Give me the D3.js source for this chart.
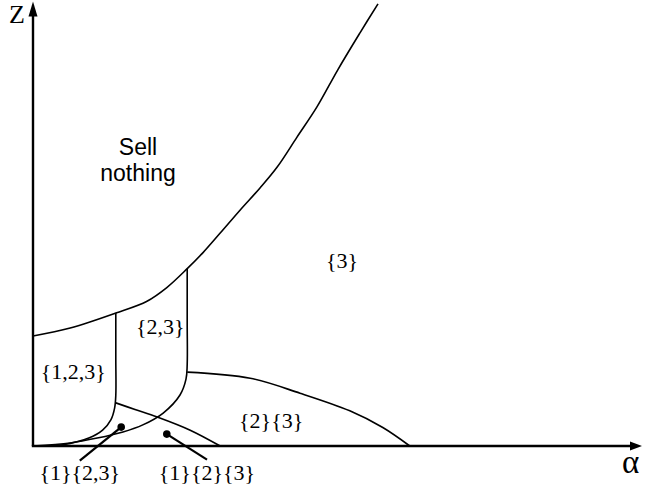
<!DOCTYPE html>
<html>
<head>
<meta charset="utf-8">
<script src="https://cdn.jsdelivr.net/npm/d3@7"></script>
<style>
  html, body { margin: 0; padding: 0; background: #fff; }
  .curve { fill: none; stroke: #000; stroke-width: 1.6; }
  .axis { stroke: #000; stroke-width: 2.4; }
  .lbl { font-family: "Liberation Serif", "Times New Roman", serif; font-size: 22px; fill: #000; }
  .sans { font-family: "Liberation Sans", Arial, sans-serif; font-size: 23px; fill: #000; }
</style>
</head>
<body>
<div id="chart"></div>
<script>
// Boundaries in (alpha, z) units
const sellNothingEdge = [[0, 25.0], [6.2, 26.8], [13.8, 30.2], [19.0, 32.9], [22.3, 36.0], [25.7, 40.3],
  [28.3, 43.9], [31.2, 48.4], [34.5, 53.6], [37.8, 58.6], [40.7, 63.4], [44.0, 70.2],
  [47.3, 77.0], [50.8, 85.5], [54.5, 93.9], [57.5, 100.5]];
const edge123 = [[13.8, 30.2], [13.8, 20], [13.8, 11.5], [13.6, 8.6], [13.0, 6.0], [11.6, 3.6],
  [9.3, 1.8], [5.0, 0.3], [0, 0]];
const edge23 = [[25.7, 40.3], [25.7, 28], [25.7, 18.5], [25.5, 15.2], [24.5, 11.6], [21.7, 7.5],
  [18.3, 4.8], [15.0, 3.2], [10.7, 1.8], [6.2, 0.7], [0, 0]];
const edge1x23 = [[13.8, 9.8], [17.0, 8.3], [20.7, 6.6], [26.2, 3.6], [31.2, 0]];
const edge2x3 = [[25.7, 16.8], [36.2, 15.4], [44.5, 12.0], [52.8, 8.0], [58.3, 4.2], [62.8, 0]];

const regionNames = ["{1,2,3}", "{2,3}", "{3}", "{2}{3}"];
const regionAt = [[6.7, 15.3], [21.2, 25.5], [51.5, 40.4], [39.7, 4.0]];

const pointerNames = ["{1}{2,3}", "{1}{2}{3}"];
const pointerDot = [[14.7, 4.3], [22.3, 2.7]];
const pointerEnd = [[7.8, -3.3], [29.0, -3.1]];
const pointerText = [[7.8, -7.7], [29.0, -7.7]];

const W = 654, H = 486;
const svg = d3.select("#chart").append("svg").attr("width", W).attr("height", H);

const x = d3.scaleLinear().domain([0, 100]).range([33, 633]);
const y = d3.scaleLinear().domain([0, 100]).range([446, 6]);

const line = d3.line().x(d => x(d[0])).y(d => y(d[1])).curve(d3.curveCatmullRom.alpha(0.5));

// region boundaries
[sellNothingEdge, edge123, edge23, edge1x23, edge2x3].forEach(pts => {
  svg.append("path").attr("class", "curve").attr("d", line(pts));
});

// axes with arrows
svg.append("line").attr("class", "axis")
  .attr("x1", x(0)).attr("y1", y(0)).attr("x2", x(0)).attr("y2", y(99));
svg.append("path").attr("d", `M${x(0)},${y(101)} L${x(0) - 4.5},${y(97.6)} L${x(0) + 4.5},${y(97.6)} Z`);
svg.append("line").attr("class", "axis")
  .attr("x1", x(0) - 1.2).attr("y1", y(0)).attr("x2", x(100)).attr("y2", y(0));
svg.append("path").attr("d", `M${x(101.5)},${y(0)} L${x(99.5)},${y(0) - 4.5} L${x(99.5)},${y(0) + 4.5} Z`);

svg.append("text").attr("class", "lbl").attr("x", 9).attr("y", 23)
  .style("font-size", "26px").text("Z");
svg.append("text").attr("class", "lbl").attr("x", 622).attr("y", 473)
  .style("font-size", "33px").text("α");

// region labels
regionNames.forEach((t, i) => {
  svg.append("text").attr("class", "lbl").attr("text-anchor", "middle")
    .attr("x", x(regionAt[i][0])).attr("y", y(regionAt[i][1])).text(t);
});

const sell = svg.append("g").attr("transform", `translate(${x(17.5)},0)`);
[["Sell", 155], ["nothing", 181]].forEach(([t, b]) => {
  sell.append("text").attr("class", "sans").attr("text-anchor", "middle")
    .attr("y", b).text(t);
});

// pointer labels
pointerNames.forEach((t, i) => {
  svg.append("line").attr("stroke", "#000").attr("stroke-width", 2.2)
    .attr("x1", x(pointerDot[i][0])).attr("y1", y(pointerDot[i][1]))
    .attr("x2", x(pointerEnd[i][0])).attr("y2", y(pointerEnd[i][1]));
  svg.append("circle").attr("r", 3.8)
    .attr("cx", x(pointerDot[i][0])).attr("cy", y(pointerDot[i][1]));
  svg.append("text").attr("class", "lbl").attr("text-anchor", "middle")
    .attr("x", x(pointerText[i][0])).attr("y", y(pointerText[i][1])).text(t);
});
</script>
</body>
</html>
